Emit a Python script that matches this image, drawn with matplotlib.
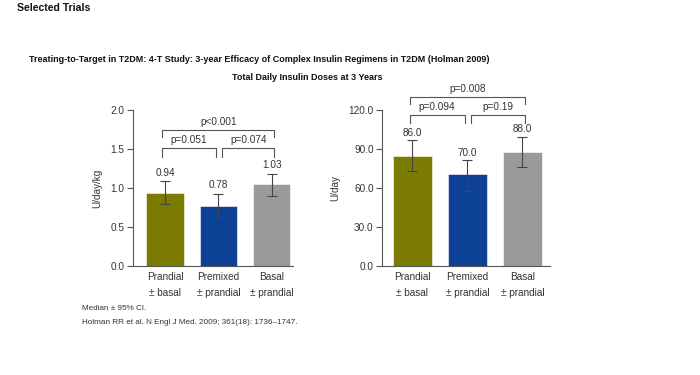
import numpy as np
import matplotlib.pyplot as plt

plt.rcParams["font.family"] = ["Liberation Sans", "DejaVu Sans"]

categories = ["Prandial\n± basal", "Premixed\n± prandial", "Basal\n± prandial"]
colors = ["#7a7b00", "#0c4196", "#9a9a9a"]

# U/day/kg
dose_kg = [0.94, 0.77, 1.05]
dose_kg_labels = ["0.94", "0.78", "1.03"]
ci_kg_low = [0.80, 0.63, 0.90]
ci_kg_high = [1.085, 0.923, 1.183]
p_kg = ["p=0.051", "p=0.074", "p<0.001"]

# U/day
dose_day = [84.6, 70.5, 87.7]
dose_day_labels = ["86.0", "70.0", "88.0"]
ci_day_low = [73.1, 57.9, 75.9]
ci_day_high = [96.7, 81.5, 99.5]
p_day = ["p=0.094", "p=0.19", "p=0.008"]

txt = "#333333"
line = "#555555"
fs = 7.2


def bracket(ax, x0, x1, y, drop, label, gap):
    ax.plot([x0, x0, x1, x1], [y - drop, y, y, y - drop], color=line, lw=0.8, clip_on=False)
    ax.text((x0 + x1) / 2, y + gap, label, ha="center", va="center", fontsize=fs, color=txt)


def panel(ax, vals, labels, lo, hi, pvals, ymax, step, ylabel, off, br, xr):
    x = np.arange(len(vals))
    err = [np.array(vals) - np.array(lo), np.array(hi) - np.array(vals)]
    ax.bar(x, vals, width=0.7, color=colors, edgecolor="white", linewidth=0.4)
    ax.errorbar(x, vals, yerr=err, fmt="none", ecolor="#444444", elinewidth=0.8, capsize=3.5, capthick=0.8)
    for xi, h, lab in zip(x, hi, labels):
        ax.text(xi, h + off, lab, ha="center", va="center", fontsize=fs, color=txt)

    low_y, low_drop, low_gap, top_y, top_drop, top_gap = br
    bracket(ax, -0.05, 0.95, low_y, low_drop, pvals[0], low_gap)
    bracket(ax, 1.07, 2.05, low_y, low_drop, pvals[1], low_gap)
    bracket(ax, -0.05, 2.05, top_y, top_drop, pvals[2], top_gap)

    ax.set_xlim(*xr)
    ax.set_ylim(0, ymax)
    ticks = np.arange(0, ymax + step / 2, step)
    ax.set_yticks(ticks)
    ax.set_yticklabels([f"{v:.1f}" for v in ticks])
    ax.set_xticks(x)
    ax.set_xticklabels(categories, linespacing=1.8)
    ax.tick_params(axis="y", direction="out", length=4, width=0.8, colors=line, labelcolor=txt, labelsize=fs, pad=2)
    ax.tick_params(axis="x", length=0, labelcolor=txt, labelsize=fs, pad=4)
    ax.set_ylabel(ylabel, fontsize=fs, color=txt, labelpad=6)
    for s in ["top", "right"]:
        ax.spines[s].set_visible(False)
    for s in ["left", "bottom"]:
        ax.spines[s].set_color(line)
        ax.spines[s].set_linewidth(0.8)


fig = plt.figure(figsize=(7, 3.75), dpi=100)

ax1 = fig.add_axes([0.19, 0.2907, 0.2286, 0.416])
panel(ax1, dose_kg, dose_kg_labels, ci_kg_low, ci_kg_high, p_kg, 2.0, 0.5, "U/day/kg", 0.11,
      (1.51, 0.11, 0.10, 1.745, 0.095, 0.105), (-0.6, 2.4))

ax2 = fig.add_axes([0.5457, 0.2907, 0.24, 0.416])
panel(ax2, dose_day, dose_day_labels, ci_day_low, ci_day_high, p_day, 120.0, 30.0, "U/day", 5.5,
      (116.2, 6.5, 5.8, 130.3, 5.8, 5.6), (-0.55, 2.5))

fig.text(17 / 700, 1 - 8 / 375, "Selected Trials", fontsize=7.6, fontweight="bold", va="center", color="#111111")
fig.text(259 / 700, 1 - 59 / 375,
         "Treating-to-Target in T2DM: 4-T Study: 3-year Efficacy of Complex Insulin Regimens in T2DM (Holman 2009)",
         fontsize=6.5, fontweight="bold", ha="center", va="center", color="#111111")
fig.text(307 / 700, 1 - 77 / 375, "Total Daily Insulin Doses at 3 Years",
         fontsize=6.5, fontweight="bold", ha="center", va="center", color="#111111")
fig.text(82 / 700, 1 - 308 / 375, "Median ± 95% CI.", fontsize=5.9, va="center", color=txt)
fig.text(82 / 700, 1 - 322 / 375, "Holman RR et al. N Engl J Med. 2009; 361(18): 1736–1747.",
         fontsize=5.9, va="center", color=txt)

fig.savefig("out.png", dpi=100)
